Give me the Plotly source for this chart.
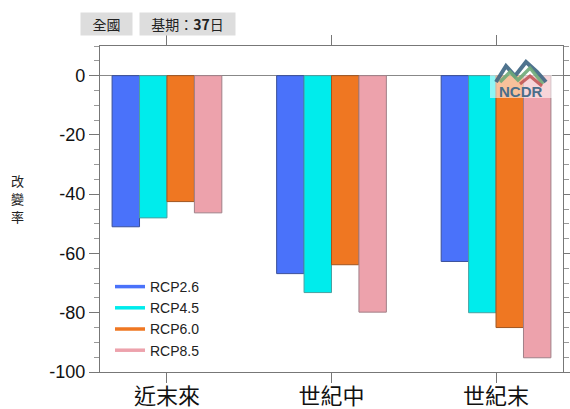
import plotly.graph_objects as go

categories = ["近末來", "世紀中", "世紀末"]
series_names = ["RCP2.6", "RCP4.5", "RCP6.0", "RCP8.5"]
rcp26 = [-51.0, -66.8, -62.7]
rcp45 = [-48.0, -73.2, -80.0]
rcp60 = [-42.5, -63.8, -85.0]
rcp85 = [-46.3, -79.8, -95.2]
ytick_vals = [0, -20, -40, -60, -80, -100]
ytick_text = ["0", "-20", "-40", "-60", "-80", "-100"]
ytitle_chars = ["改", "變", "率"]

colors = ["#4a72fa", "#00ecec", "#ef7722", "#eda2ac"]
edge = ["#3a4f9a", "#4aa0a0", "#a05520", "#a08088"]

W, H = 570, 409
ML, MR, MT, MB = 100, 7, 46, 37
PW, PH = W - ML - MR, H - MT - MB


def px(x):
    return (x - ML) / PW


def py(y):
    return (H - MB - y) / PH


xs = list(range(len(categories)))
fig = go.Figure()
for name, vals, c, e in zip(series_names, [rcp26, rcp45, rcp60, rcp85], colors, edge):
    fig.add_trace(go.Bar(x=xs, y=vals, name=name, marker=dict(color=c, line=dict(color=e, width=1)),
                         showlegend=False))
for name, c in zip(series_names, colors):
    fig.add_trace(go.Scatter(x=[None], y=[None], mode="lines", name=name,
                             line=dict(color=c, width=3.5), showlegend=True))

fig.update_layout(
    width=W, height=H,
    margin=dict(l=ML, r=MR, t=MT, b=MB, autoexpand=False),
    paper_bgcolor="white", plot_bgcolor="white",
    barmode="group", bargap=0.333, bargroupgap=0,
    font=dict(family="Liberation Sans, Arial", color="black"),
    legend=dict(x=px(110), y=py(271), xanchor="left", yanchor="top",
                font=dict(size=14, color="#222", family="Liberation Sans, Arial"),
                bgcolor="rgba(0,0,0,0)", itemwidth=30, tracegroupgap=0),
)
fig.update_xaxes(
    range=[-0.407, 2.407], tickvals=xs, ticktext=categories, automargin=False,
    tickfont=dict(size=22, family="Noto Sans CJK TC", color="#111"),
    showline=True, linecolor="#777", linewidth=1.2, mirror="ticks",
    ticks="outside", ticklen=10, tickcolor="#777", tickwidth=1.2,
    ticklabelstandoff=-6,
    showgrid=False, zeroline=False,
)
fig.update_yaxes(
    range=[-100, 10], tickvals=ytick_vals, ticktext=ytick_text, automargin=False,
    tickfont=dict(size=18, family="Liberation Sans, Arial", color="#111"),
    showline=True, linecolor="#777", linewidth=1.2, mirror="ticks",
    ticks="outside", ticklen=10, tickcolor="#777", tickwidth=1.2,
    minor=dict(dtick=5, ticks="outside", ticklen=5, tickcolor="#999", tickwidth=1),
    showgrid=False, zeroline=True, zerolinecolor="#888", zerolinewidth=1,
)

# header boxes
fig.add_annotation(xref="paper", yref="paper", x=px(80), y=py(12), xanchor="left", yanchor="top",
                   text="全國", showarrow=False, bgcolor="#dddddd", width=49, height=20,
                   font=dict(size=14, family="Noto Sans CJK TC", color="#222"))
fig.add_annotation(xref="paper", yref="paper", x=px(139), y=py(12), xanchor="left", yanchor="top",
                   text="基期：<b>37</b>日", showarrow=False, bgcolor="#dddddd", width=93, height=20,
                   font=dict(size=14, family="Noto Sans CJK TC", color="#222"))
# y title (stacked characters)
for i, ch in enumerate(ytitle_chars):
    fig.add_annotation(xref="paper", yref="paper", x=px(17), y=py(180 + 18 * i),
                       xanchor="center", yanchor="middle", text=ch, showarrow=False, borderpad=0,
                       font=dict(size=13, family="Noto Sans CJK TC", color="#222"))

# logo (decoration)
fig.add_shape(type="rect", xref="paper", yref="paper", x0=px(490), x1=px(552), y0=py(98), y1=py(56),
              fillcolor="rgba(255,255,255,0.55)", line=dict(width=0), layer="above")


def path(pts):
    return "M " + " L ".join(f"{px(a)},{py(b)}" for a, b in pts)


fig.add_shape(type="path", xref="paper", yref="paper", layer="above",
              path=path([(496, 82), (506, 66), (515, 76), (526, 62), (537, 72), (546, 82)]),
              line=dict(color="rgba(60,100,130,0.9)", width=4))
fig.add_shape(type="path", xref="paper", yref="paper", layer="above",
              path=path([(500, 82), (510, 72), (518, 80), (530, 68), (543, 84)]),
              line=dict(color="rgba(110,170,120,0.9)", width=3.5))
fig.add_shape(type="path", xref="paper", yref="paper", layer="above",
              path=path([(520, 84), (530, 76), (542, 86)]),
              line=dict(color="rgba(190,80,80,0.85)", width=3))
fig.add_annotation(xref="paper", yref="paper", x=px(520), y=py(92), xanchor="center", yanchor="middle",
                   text="<b>NCDR</b>", showarrow=False,
                   font=dict(size=15, family="Liberation Sans", color="#4a6e8a"))

fig.write_html("out.html", config={"displayModeBar": False},
               post_script="document.body.style.margin='0px';")
